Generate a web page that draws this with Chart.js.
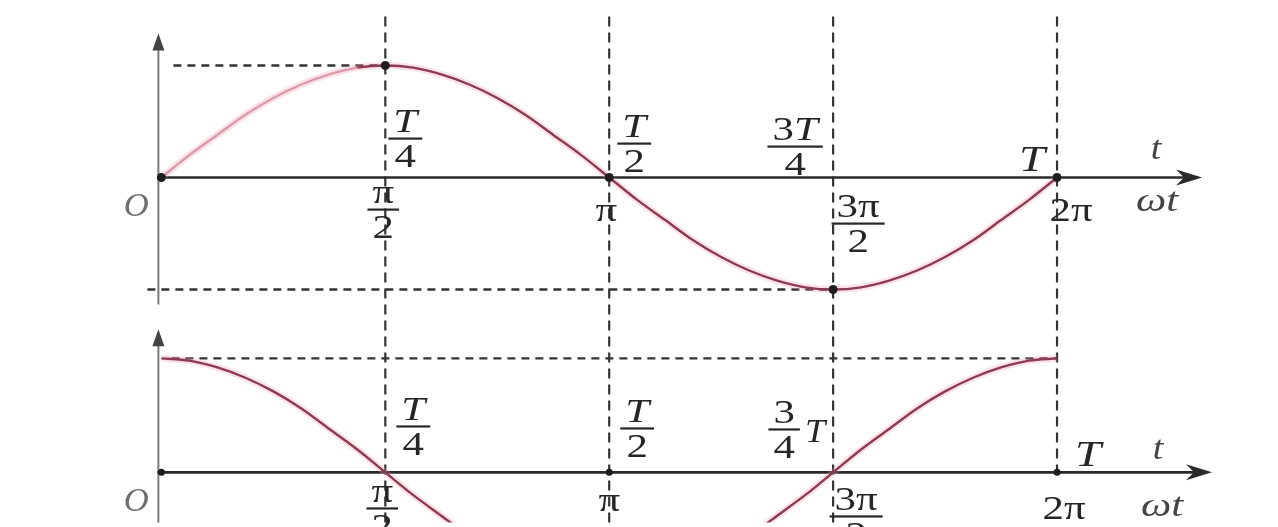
<!DOCTYPE html>
<html>
<head>
<meta charset="utf-8">
<script src="https://cdn.jsdelivr.net/npm/chart.js@4.4.1/dist/chart.umd.min.js"></script>
<style>
  html, body { margin: 0; background: #fff; }
  #wrap { width: 1278px; height: 527px; }
</style>
</head>
<body>
<div id="wrap"><canvas id="wave" width="1278" height="527"></canvas></div>
<script>
// phase in units of pi, one point every pi/16
var phase = [0, 0.0625, 0.125, 0.1875, 0.25, 0.3125, 0.375, 0.4375, 0.5, 0.5625, 0.625, 0.6875, 0.75, 0.8125, 0.875, 0.9375,
             1, 1.0625, 1.125, 1.1875, 1.25, 1.3125, 1.375, 1.4375, 1.5, 1.5625, 1.625, 1.6875, 1.75, 1.8125, 1.875, 1.9375, 2];
var sineVals = [0, 0.2, 0.38, 0.56, 0.71, 0.83, 0.92, 0.98, 1, 0.98, 0.92, 0.83, 0.71, 0.56, 0.38, 0.2,
                0, -0.2, -0.38, -0.56, -0.71, -0.83, -0.92, -0.98, -1, -0.98, -0.92, -0.83, -0.71, -0.56, -0.38, -0.2, 0];
var cosineVals = [1, 0.98, 0.92, 0.83, 0.71, 0.56, 0.38, 0.2, 0, -0.2, -0.38, -0.56, -0.71, -0.83, -0.92, -0.98,
                  -1, -0.98, -0.92, -0.83, -0.71, -0.56, -0.38, -0.2, 0, 0.2, 0.38, 0.56, 0.71, 0.83, 0.92, 0.98, 1];

// dashed marks on the axes
var markPhase = [0.5, 1, 1.5, 2];
var omegaLabels = [['π', '2'], ['π'], ['3π', '2'], ['2π']];
var timeLabelsTop = [['T', '4'], ['T', '2'], ['3T', '4'], ['T']];
var timeLabelsBottom = [['T', '4'], ['T', '2'], ['3', '4', 'T'], ['T']];
var topDots = [0, 0.5, 1, 1.5, 2];
var bottomDots = [0, 1, 2];

var SERIF = '"Liberation Serif", "DejaVu Serif", serif';
var ITALIC_CHARS = 'TtωO';
var STRETCH = 1.3; // glyphs in the figure are set wide

function pts(xs, ys) {
  return xs.map(function (x, i) { return { x: x, y: ys[i] }; });
}
function pick(vals, list) {
  return list.map(function (p) { return { x: p, y: vals[phase.indexOf(p)] }; });
}

function line(ctx, x1, y1, x2, y2) {
  ctx.beginPath(); ctx.moveTo(x1, y1); ctx.lineTo(x2, y2); ctx.stroke();
}

// text where T, t, ω and O are set in italic
function setFont(ctx, ch, size) {
  ctx.font = (ITALIC_CHARS.indexOf(ch) >= 0 ? 'italic ' : '') + size + 'px ' + SERIF;
}
function runWidth(ctx, s, size, sx) {
  var w = 0;
  for (var i = 0; i < s.length; i++) {
    setFont(ctx, s[i], size);
    w += ctx.measureText(s[i]).width;
  }
  return w * sx;
}
function drawText(ctx, s, cx, base, size, align, sx) {
  sx = sx || STRETCH;
  var w = runWidth(ctx, s, size, sx);
  var x = align === 'left' ? cx : cx - w / 2;
  ctx.save();
  ctx.translate(x, base);
  ctx.scale(sx, 1);
  ctx.textAlign = 'left';
  ctx.textBaseline = 'alphabetic';
  var px = 0;
  for (var i = 0; i < s.length; i++) {
    setFont(ctx, s[i], size);
    ctx.fillText(s[i], px, 0);
    px += ctx.measureText(s[i]).width;
  }
  ctx.restore();
  return w;
}
function drawFrac(ctx, num, den, cx, barY, size) {
  var w = Math.max(runWidth(ctx, num, size, STRETCH), runWidth(ctx, den, size, STRETCH)) + 10;
  drawText(ctx, num, cx, barY - 6, size);
  drawText(ctx, den, cx, barY + 29, size);
  ctx.fillRect(cx - w / 2, barY - 1, w, 2.2);
}
function drawLabel(ctx, parts, cx, y, size) {
  if (parts.length === 1) drawText(ctx, parts[0], cx, y, size);
  else drawFrac(ctx, parts[0], parts[1], cx, y, size);
}

var figurePlugin = {
  id: 'figure',
  beforeDatasetsDraw: function (chart) {
    var ctx = chart.ctx, xs = chart.scales.x, yt = chart.scales.yTop, yb = chart.scales.yBot, area = chart.chartArea;
    var x0 = xs.getPixelForValue(0), t0 = yt.getPixelForValue(0), b0 = yb.getPixelForValue(0);
    ctx.save();

    // vertical dashed guides through both plots
    ctx.strokeStyle = '#333';
    ctx.lineWidth = 2.2;
    ctx.setLineDash([10, 6]);
    markPhase.forEach(function (p) {
      var px = xs.getPixelForValue(p);
      line(ctx, px, area.top + 12, px, p === 2 ? b0 : area.bottom);
    });

    // amplitude levels
    ctx.lineWidth = 2.4;
    ctx.setLineDash([8, 6]);
    line(ctx, x0 + 12, yt.getPixelForValue(1), xs.getPixelForValue(0.5), yt.getPixelForValue(1));
    line(ctx, x0 - 14, yt.getPixelForValue(-1), xs.getPixelForValue(1.5), yt.getPixelForValue(-1));
    line(ctx, x0 + 10, yb.getPixelForValue(1), xs.getPixelForValue(2), yb.getPixelForValue(1));
    ctx.setLineDash([]);

    // vertical axes
    ctx.strokeStyle = '#7a7a7a';
    ctx.fillStyle = '#444';
    ctx.lineWidth = 2;
    [[t0 - 144, t0 + 127], [b0 - 143, area.bottom]].forEach(function (a) {
      line(ctx, x0 - 3, a[0] + 10, x0 - 3, a[1]);
      ctx.beginPath();
      ctx.moveTo(x0 - 3, a[0]);
      ctx.lineTo(x0 - 9, a[0] + 17);
      ctx.lineTo(x0 + 3, a[0] + 17);
      ctx.closePath();
      ctx.fill();
    });

    // horizontal axes with arrows
    ctx.strokeStyle = '#2a2a2a';
    ctx.fillStyle = '#2a2a2a';
    ctx.lineWidth = 2.6;
    var x2 = xs.getPixelForValue(2);
    [[t0, x2 + 145], [b0, x2 + 155]].forEach(function (a) {
      line(ctx, x0 - 4, a[0], a[1] - 8, a[0]);
      ctx.beginPath();
      ctx.moveTo(a[1], a[0]);
      ctx.lineTo(a[1] - 26, a[0] - 8);
      ctx.lineTo(a[1] - 18, a[0]);
      ctx.lineTo(a[1] - 26, a[0] + 8);
      ctx.closePath();
      ctx.fill();
    });
    ctx.restore();
  },
  afterDatasetsDraw: function (chart) {
    var ctx = chart.ctx, xs = chart.scales.x, yt = chart.scales.yTop, yb = chart.scales.yBot;
    var x0 = xs.getPixelForValue(0), t0 = yt.getPixelForValue(0), b0 = yb.getPixelForValue(0);
    var x2 = xs.getPixelForValue(2);
    var S = 33;
    ctx.save();
    ctx.fillStyle = '#262626';

    // upper plot: time above the axis, phase below
    var topAbove = [[20, -39], [25, -34], [-38, -31], [-25, -6]];
    var topBelow = [[-2, 32], [-3, 44], [25, 46], [14, 44]];
    markPhase.forEach(function (p, i) {
      var px = xs.getPixelForValue(p);
      drawLabel(ctx, timeLabelsTop[i], px + topAbove[i][0], t0 + topAbove[i][1], i === 3 ? 36 : S);
      drawLabel(ctx, omegaLabels[i], px + topBelow[i][0], t0 + topBelow[i][1], S);
    });

    // lower plot
    var botAbove = [[28, -46], [28, -44], [-49, -43], [31, -6]];
    var botBelow = [[-3, 36], [0, 39], [23, 44], [7, 47]];
    markPhase.forEach(function (p, i) {
      var px = xs.getPixelForValue(p);
      var lab = timeLabelsBottom[i];
      if (lab.length === 3) {
        drawFrac(ctx, lab[0], lab[1], px + botAbove[i][0], b0 + botAbove[i][1], S);
        drawText(ctx, lab[2], px - 28, b0 - 30, S, 'left', 1.1);
      } else {
        drawLabel(ctx, lab, px + botAbove[i][0], b0 + botAbove[i][1], i === 3 ? 36 : S);
      }
      drawLabel(ctx, omegaLabels[i], px + botBelow[i][0], b0 + botBelow[i][1], S);
    });

    // origin and axis names
    ctx.fillStyle = '#6e6e6e';
    drawText(ctx, 'O', x0 - 25, t0 + 39, 33, 'center', 1.05);
    drawText(ctx, 'O', x0 - 25, b0 + 39, 33, 'center', 1.05);
    ctx.fillStyle = '#444';
    drawText(ctx, 't', x2 + 99, t0 - 18, S, 'center', 1.15);
    drawText(ctx, 'ωt', x2 + 100, t0 + 34, S);
    drawText(ctx, 't', x2 + 101, b0 - 13, S, 'center', 1.15);
    drawText(ctx, 'ωt', x2 + 105, b0 + 44, S);
    ctx.restore();
  }
};

var curveColor = '#8e3a52';
var haloColor = 'rgba(236, 150, 172, 0.28)';

// lower index is drawn on top: dots first, then curves, then the pink halo
new Chart(document.getElementById('wave'), {
  type: 'line',
  data: {
    datasets: [
      { data: pick(sineVals, topDots), yAxisID: 'yTop', showLine: false, pointRadius: 4.5, pointBackgroundColor: '#1e1e1e', pointBorderWidth: 0 },
      { data: pick(cosineVals.map(function () { return 0; }), bottomDots), yAxisID: 'yBot', showLine: false, pointRadius: 3.5, pointBackgroundColor: '#1e1e1e', pointBorderWidth: 0 },
      {
        data: pts(phase, sineVals), yAxisID: 'yTop', borderColor: curveColor, borderWidth: 2.4, pointRadius: 0,
        cubicInterpolationMode: 'monotone',
        segment: { borderColor: function (c) { return c.p0.parsed.x < 0.4 ? '#dc9aab' : undefined; } }
      },
      { data: pts(phase, cosineVals), yAxisID: 'yBot', borderColor: curveColor, borderWidth: 2.4, pointRadius: 0, cubicInterpolationMode: 'monotone' },
      { data: pts(phase, sineVals), yAxisID: 'yTop', borderColor: haloColor, borderWidth: 7, pointRadius: 0, cubicInterpolationMode: 'monotone' },
      { data: pts(phase, cosineVals), yAxisID: 'yBot', borderColor: haloColor, borderWidth: 7, pointRadius: 0, cubicInterpolationMode: 'monotone' }
    ]
  },
  options: {
    responsive: false,
    animation: false,
    devicePixelRatio: 1,
    layout: { padding: 0 },
    scales: {
      x: { type: 'linear', min: -0.35033, max: 2.48337, display: false },
      yTop: { type: 'linear', min: -3.0789, max: 1.5439, display: false },
      yBot: { type: 'linear', min: -0.4397, max: 4.1034, display: false }
    },
    plugins: { legend: { display: false }, tooltip: { enabled: false } }
  },
  plugins: [figurePlugin]
});
</script>
</body>
</html>
